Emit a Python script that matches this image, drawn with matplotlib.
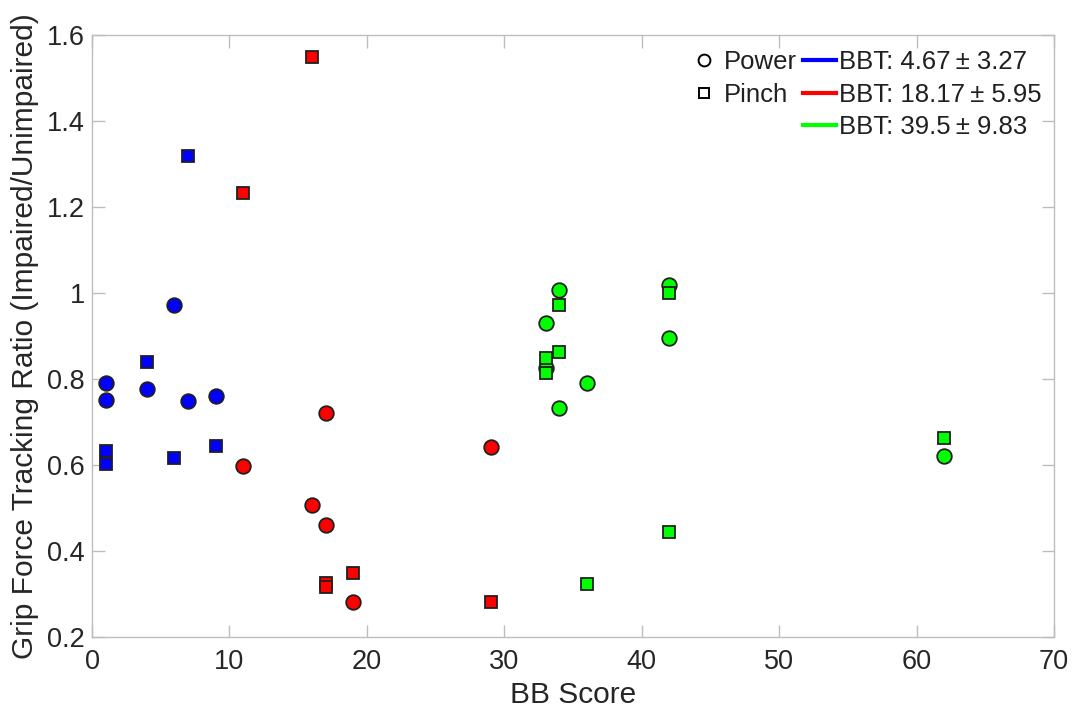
import matplotlib
matplotlib.use("Agg")
import matplotlib.pyplot as plt
from matplotlib.lines import Line2D

plt.rcParams['font.family'] = ['Liberation Sans', 'DejaVu Sans']

# Group 1 (blue) BBT: 4.67 ± 3.27
blue_power_x = [1, 1, 4, 6, 7, 9]
blue_power_y = [0.791, 0.751, 0.777, 0.972, 0.749, 0.760]
blue_pinch_x = [1, 1, 4, 6, 7, 9]
blue_pinch_y = [0.633, 0.602, 0.840, 0.616, 1.319, 0.644]

# Group 2 (red) BBT: 18.17 ± 5.95
red_power_x = [11, 16, 17, 17, 19, 29]
red_power_y = [0.598, 0.507, 0.721, 0.460, 0.281, 0.642]
red_pinch_x = [11, 16, 17, 17, 19, 29]
red_pinch_y = [1.233, 1.549, 0.326, 0.316, 0.349, 0.281]

# Group 3 (green) BBT: 39.5 ± 9.83
green_power_x = [33, 33, 34, 34, 36, 42, 42, 62]
green_power_y = [0.930, 0.826, 1.007, 0.733, 0.791, 1.019, 0.895, 0.621]
green_pinch_x = [33, 33, 34, 34, 36, 42, 42, 62]
green_pinch_y = [0.849, 0.814, 0.972, 0.863, 0.323, 1.000, 0.444, 0.663]

group_labels = ['BBT: 4.67\u2009\u00b1 3.27', 'BBT: 18.17\u2009\u00b1 5.95', 'BBT: 39.5\u2009\u00b1 9.83']
group_colors = ['#0000ff', '#ff0000', '#00ff00']

fig = plt.figure(figsize=(10.74, 7.15), dpi=100)
ax = fig.add_axes([0.0857, 0.1091, 0.8957, 0.8419])

groups = [
    (blue_power_x, blue_power_y, blue_pinch_x, blue_pinch_y),
    (red_power_x, red_power_y, red_pinch_x, red_pinch_y),
    (green_power_x, green_power_y, green_pinch_x, green_pinch_y),
]
for (px, py, qx, qy), c in zip(groups, group_colors):
    ax.plot(px, py, 'o', ms=10.5, mfc=c, mec='#202020', mew=1.3, ls='none', zorder=3)
    ax.plot(qx, qy, 's', ms=8, mfc=c, mec='#202020', mew=1.3, ls='none', zorder=4)

ax.set_xlim(0, 70)
ax.set_ylim(0.2, 1.6)
ax.set_xticks(range(0, 71, 10))
ax.set_yticks([0.2, 0.4, 0.6, 0.8, 1.0, 1.2, 1.4, 1.6])
ax.set_yticklabels(['0.2', '0.4', '0.6', '0.8', '1', '1.2', '1.4', '1.6'])

axcol = '#bdbdbd'
for s in ax.spines.values():
    s.set_color(axcol)
    s.set_linewidth(1.0)
ax.tick_params(direction='in', length=9, width=1.0, color=axcol,
               labelsize=19.5, labelcolor='#262626', top=True, right=True, pad=5)
ax.tick_params(axis='x', pad=9)
ax.set_xlabel('BB Score', fontsize=21.5, color='#262626', labelpad=4)
ax.set_ylabel('Grip Force Tracking Ratio (Impaired/Unimpaired)', fontsize=21.5,
              color='#262626', labelpad=6)

handles = [
    Line2D([], [], marker='o', ls='none', mfc='none', mec='black', ms=8.5, mew=1.4),
    Line2D([], [], marker='s', ls='none', mfc='none', mec='black', ms=6.5, mew=1.4),
    Line2D([], [], ls='none'),
    Line2D([], [], color=group_colors[0], lw=3),
    Line2D([], [], color=group_colors[1], lw=3),
    Line2D([], [], color=group_colors[2], lw=3),
]
labels = ['Power', 'Pinch', ''] + group_labels
leg = ax.legend(handles, labels, ncol=2, loc='upper right', frameon=False,
                fontsize=18.5, handlelength=1.3, handletextpad=0.12, columnspacing=0.22,
                labelspacing=0.33, borderpad=0, borderaxespad=0,
                bbox_to_anchor=(0.9875, 0.975))
for t in leg.get_texts():
    t.set_color('#202020')

fig.savefig('out.png', dpi=100, facecolor='white')
